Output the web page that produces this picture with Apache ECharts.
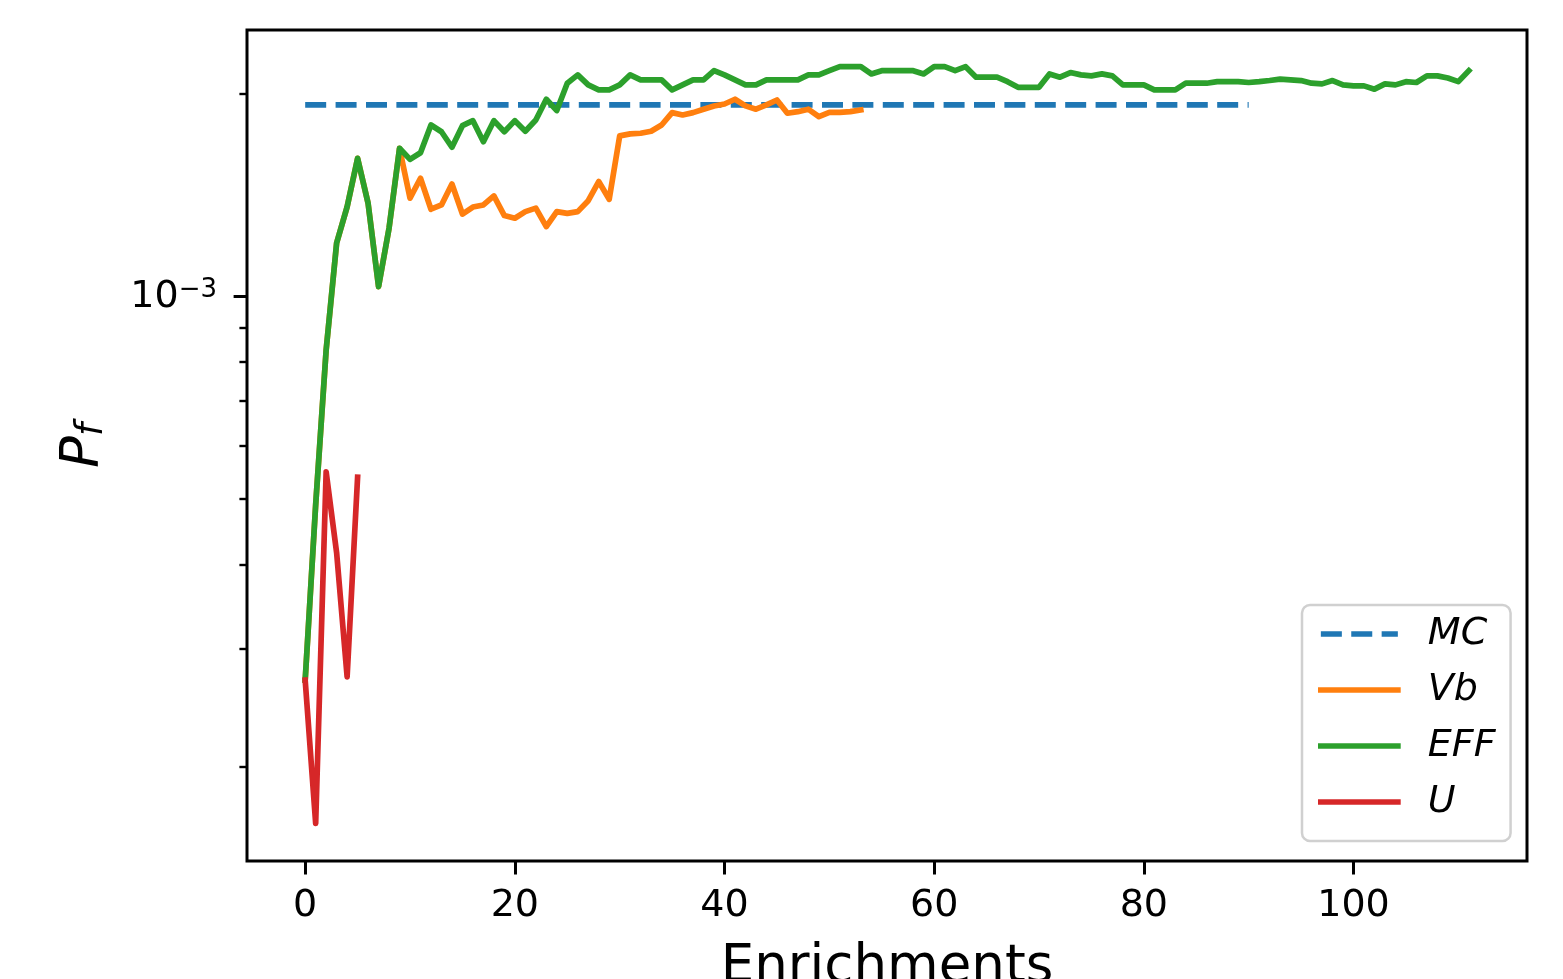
<!DOCTYPE html>
<html>
<head>
<meta charset="utf-8">
<script src="https://cdn.jsdelivr.net/npm/echarts@6/dist/echarts.min.js"></script>
<style>
html,body{margin:0;padding:0;background:#fff;}
#chart{width:1563px;height:979px;}
</style>
</head>
<body>
<div id="chart"></div>
<script>
// ---- data ----
const xTicks = [0, 20, 40, 60, 80, 100];
const yMajorTicks = [1e-3];
const yMinorTicks = [2e-4, 3e-4, 4e-4, 5e-4, 6e-4, 7e-4, 8e-4, 9e-4, 2e-3];

const mcX = [0, 90];
const mcY = [1.928e-3, 1.928e-3];

const vb = [
  2.69e-4, 4.90e-4, 8.33e-4, 1.202e-3, 1.360e-3, 1.606e-3, 1.377e-3, 1.035e-3, 1.264e-3, 1.662e-3,
  1.401e-3, 1.500e-3, 1.349e-3, 1.369e-3, 1.471e-3, 1.327e-3, 1.359e-3, 1.369e-3, 1.412e-3, 1.320e-3,
  1.308e-3, 1.338e-3, 1.354e-3, 1.271e-3, 1.338e-3, 1.330e-3, 1.338e-3, 1.389e-3, 1.483e-3, 1.396e-3,
  1.734e-3, 1.746e-3, 1.750e-3, 1.762e-3, 1.800e-3, 1.878e-3, 1.863e-3, 1.878e-3, 1.900e-3, 1.921e-3,
  1.934e-3, 1.966e-3, 1.922e-3, 1.900e-3, 1.928e-3, 1.961e-3, 1.874e-3, 1.884e-3, 1.900e-3, 1.852e-3,
  1.880e-3, 1.880e-3, 1.884e-3, 1.895e-3
];

const eff = [
  2.69e-4, 4.90e-4, 8.33e-4, 1.202e-3, 1.360e-3, 1.606e-3, 1.377e-3, 1.035e-3, 1.264e-3, 1.662e-3,
  1.600e-3, 1.637e-3, 1.800e-3, 1.759e-3, 1.668e-3, 1.796e-3, 1.827e-3, 1.700e-3, 1.827e-3, 1.759e-3,
  1.827e-3, 1.762e-3, 1.831e-3, 1.966e-3, 1.891e-3, 2.077e-3, 2.137e-3, 2.065e-3, 2.030e-3, 2.030e-3,
  2.065e-3, 2.137e-3, 2.101e-3, 2.101e-3, 2.101e-3, 2.030e-3, 2.065e-3, 2.101e-3, 2.101e-3, 2.168e-3,
  2.137e-3, 2.101e-3, 2.065e-3, 2.065e-3, 2.101e-3, 2.101e-3, 2.101e-3, 2.101e-3, 2.137e-3, 2.137e-3,
  2.168e-3, 2.198e-3, 2.198e-3, 2.198e-3, 2.144e-3, 2.168e-3, 2.168e-3, 2.168e-3, 2.168e-3, 2.144e-3,
  2.198e-3, 2.198e-3, 2.168e-3, 2.198e-3, 2.120e-3, 2.120e-3, 2.120e-3, 2.088e-3, 2.048e-3, 2.048e-3,
  2.048e-3, 2.144e-3, 2.120e-3, 2.154e-3, 2.137e-3, 2.130e-3, 2.144e-3, 2.130e-3, 2.065e-3, 2.065e-3,
  2.065e-3, 2.030e-3, 2.030e-3, 2.030e-3, 2.077e-3, 2.077e-3, 2.077e-3, 2.088e-3, 2.088e-3, 2.088e-3,
  2.082e-3, 2.088e-3, 2.096e-3, 2.106e-3, 2.101e-3, 2.096e-3, 2.077e-3, 2.072e-3, 2.096e-3, 2.065e-3,
  2.058e-3, 2.058e-3, 2.035e-3, 2.072e-3, 2.065e-3, 2.088e-3, 2.082e-3, 2.130e-3, 2.130e-3, 2.114e-3,
  2.088e-3, 2.168e-3
];

const u = [2.69e-4, 1.647e-4, 5.49e-4, 4.16e-4, 2.72e-4, 5.39e-4];

const seriesNames = ['MC', 'Vb', 'EFF', 'U'];
const colors = ['#1f77b4', '#ff7f0e', '#2ca02c', '#d62728'];

// ---- build ----
const idx = arr => arr.map((v, i) => [i, v]);
const mcData = mcX.map((x, i) => [x, mcY[i]]);

const FONT = 'DejaVu Sans';
const yMin = 1.448e-4, yMax = 2.492e-3;

const chart = echarts.init(document.getElementById('chart'), null, {renderer: 'canvas'});
const lw = 5.7;

chart.setOption({
  animation: false,
  backgroundColor: '#ffffff',
  grid: {
    left: 247, right: 36, top: 30, bottom: 118,
    containLabel: false, outerBoundsMode: 'none',
    show: true, borderColor: '#000', borderWidth: 3, backgroundColor: 'transparent'
  },
  xAxis: {
    type: 'value', min: -5.55, max: 116.55,
    axisLine: {show: false, onZero: false},
    splitLine: {show: false},
    axisTick: {show: true, inside: false, length: 13.4, lineStyle: {color: '#000', width: 3}, customValues: xTicks},
    axisLabel: {show: true, customValues: xTicks, margin: 26, color: '#000', fontFamily: FONT, fontSize: 38},
    name: 'Enrichments', nameLocation: 'middle', nameGap: 81,
    nameTextStyle: {fontFamily: FONT, fontSize: 53, color: '#000'}
  },
  yAxis: [
    {
      type: 'log', min: yMin, max: yMax, logBase: 10,
      axisLine: {show: false, onZero: false},
      splitLine: {show: false},
      minorTick: {show: false},
      axisTick: {show: true, inside: false, length: 13.4, lineStyle: {color: '#000', width: 3}, customValues: yMajorTicks},
      axisLabel: {
        show: true, customValues: yMajorTicks, margin: 30, color: '#000',
        formatter: () => '{b|10}{s|−3}',
        rich: {
          b: {fontFamily: FONT, fontSize: 38, lineHeight: 38, color: '#000'},
          s: {fontFamily: FONT, fontSize: 26, lineHeight: 20, verticalAlign: 'top', color: '#000'}
        }
      },
      name: '{p|P}{f|f}', nameLocation: 'middle', nameGap: 136, nameRotate: 90,
      nameTextStyle: {
        rich: {
          p: {fontFamily: FONT, fontStyle: 'italic', fontSize: 53, lineHeight: 53, color: '#000'},
          f: {fontFamily: FONT, fontStyle: 'italic', fontSize: 37, lineHeight: 26, verticalAlign: 'bottom', color: '#000'}
        }
      }
    },
    {
      type: 'log', min: yMin, max: yMax, logBase: 10, position: 'left', offset: 0,
      axisLine: {show: false, onZero: false},
      splitLine: {show: false},
      axisTick: {show: true, inside: false, length: 7.6, lineStyle: {color: '#000', width: 2.4}, customValues: yMinorTicks},
      axisLabel: {show: false}
    }
  ],
  legend: {
    data: seriesNames,
    orient: 'vertical',
    left: 1302, top: 605,
    padding: [10, 15, 20, 16],
    itemWidth: 77, itemHeight: 20, itemGap: 18,
    backgroundColor: '#ffffff',
    borderColor: '#d0d0d0', borderWidth: 2.5, borderRadius: 8,
    lineStyle: {width: lw},
    itemStyle: {opacity: 0},
    textStyle: {fontFamily: FONT, fontStyle: 'italic', fontSize: 38, lineHeight: 38, color: '#000', padding: [0, 0, 0, 25]}
  },
  series: [
    {
      name: 'MC', type: 'line', data: mcData, symbol: 'none', xAxisIndex: 0, yAxisIndex: 0,
      lineStyle: {color: colors[0], width: lw, type: [21, 9.4], cap: 'butt'},
      itemStyle: {color: colors[0]}
    },
    {
      name: 'Vb', type: 'line', data: idx(vb), symbol: 'none', yAxisIndex: 0,
      lineStyle: {color: colors[1], width: lw, cap: 'square', join: 'round'},
      itemStyle: {color: colors[1]}
    },
    {
      name: 'EFF', type: 'line', data: idx(eff), symbol: 'none', yAxisIndex: 0,
      lineStyle: {color: colors[2], width: lw, cap: 'square', join: 'round'},
      itemStyle: {color: colors[2]}
    },
    {
      name: 'U', type: 'line', data: idx(u), symbol: 'none', yAxisIndex: 0,
      lineStyle: {color: colors[3], width: lw, cap: 'square', join: 'round'},
      itemStyle: {color: colors[3]}
    }
  ]
});
</script>
</body>
</html>
